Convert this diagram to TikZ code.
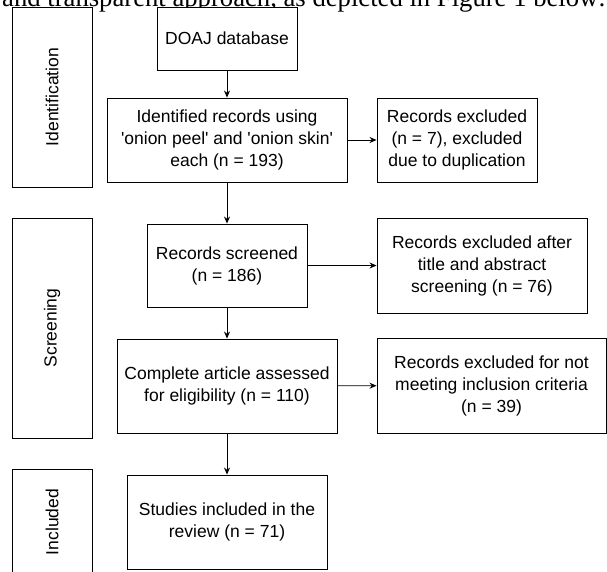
\documentclass[tikz,border=0pt]{standalone}
\usepackage{fontspec}
\setmainfont{Liberation Sans}
\newfontfamily\serifpart{Liberation Serif}
\usetikzlibrary{arrows.meta}
\pgfdeclarelayer{edgelayer}
\pgfdeclarelayer{nodelayer}
\pgfsetlayers{edgelayer,nodelayer,main}
\tikzset{font=\fontsize{17.5}{22}\selectfont}
\tikzstyle{none}=[inner sep=0pt]
\tikzstyle{box}=[rectangle,draw=black,line width=0.9pt,fill=white,align=center,inner sep=2pt]
\tikzstyle{phase}=[rectangle,draw=black,line width=0.9pt,fill=white,minimum width=80pt]
\tikzstyle{flow}=[line width=0.9pt,-{Stealth[length=7pt,width=6pt]}]
\newcommand{\sq}{\textquotesingle}

\begin{document}
\begin{tikzpicture}[x=1pt,y=-1pt]
	\useasboundingbox (0,0) rectangle (607,571);
	\clip (0,0) rectangle (607,571);
	\begin{pgfonlayer}{nodelayer}
		\node [style=none,anchor=base west,font={\serifpart\fontsize{21}{24}\selectfont}] (t) at (2,6) {\scalebox{1.27}{and transparent approach, as depicted in Figure 1 below:}};
		\node [style=phase,minimum height=180pt] (0) at (52,97) {};
		\node [rotate=90] at (0.center) {Identification};
		\node [style=phase,minimum height=220pt] (1) at (52,328) {};
		\node [rotate=90] at (1.center) {Screening};
		\node [style=phase,minimum height=106pt] (2) at (52,522) {};
		\node [rotate=90] at (2.center) {Included};
		\node [style=box,minimum width=140pt,minimum height=63pt] (3) at (227,38.5) {DOAJ database};
		\node [style=box,minimum width=240pt,minimum height=84pt] (4) at (227,140) {Identified records using\\\sq onion peel\sq{} and \sq onion skin\sq\\each (n = 193)};
		\node [style=box,minimum width=160pt,minimum height=84pt] (5) at (457,140) {Records excluded\\(n = 7), excluded\\due to duplication};
		\node [style=box,minimum width=160pt,minimum height=83pt] (6) at (227,265.5) {Records screened\\(n = 186)};
		\node [style=box,minimum width=210pt,minimum height=95pt] (7) at (482,265.5) {Records excluded after\\title and abstract\\screening (n = 76)};
		\node [style=box,minimum width=220pt,minimum height=94pt] (8) at (227,386) {Complete article assessed\\for eligibility (n = 110)};
		\node [style=box,minimum width=229pt,minimum height=95pt] (9) at (491.5,385.5) {Records excluded for not\\meeting inclusion criteria\\(n = 39)};
		\node [style=box,minimum width=200pt,minimum height=94pt] (10) at (227,522) {Studies included in the\\review (n = 71)};
	\end{pgfonlayer}
	\begin{pgfonlayer}{edgelayer}
		\draw [style=flow] (3) to (4);
		\draw [style=flow] (4) to (5);
		\draw [style=flow] (4) to (6);
		\draw [style=flow] (6) to (7);
		\draw [style=flow] (6) to (8);
		\draw [style=flow] (8) to (9);
		\draw [style=flow] (8) to (10);
	\end{pgfonlayer}
\end{tikzpicture}
\end{document}
